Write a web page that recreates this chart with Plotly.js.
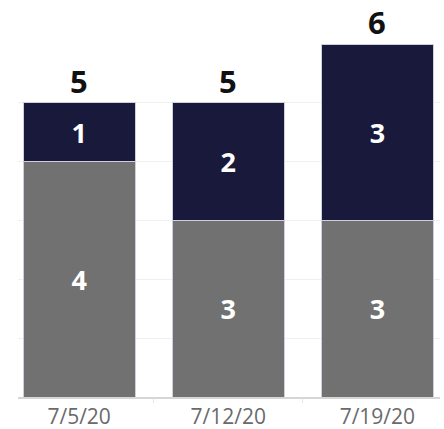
<!DOCTYPE html>
<html>
<head>
<meta charset="utf-8">
<script src="https://cdn.plot.ly/plotly-3.0.1.min.js"></script>
<style>html,body{margin:0;padding:0;background:#fff;}#chart{width:444px;height:429px;}</style>
</head>
<body>
<div id="chart"></div>
<script>
const categories = ['7/5/20', '7/12/20', '7/19/20'];
const bottomValues = [4, 3, 3];
const topValues = [1, 2, 3];
const totals = categories.map((c, i) => bottomValues[i] + topValues[i]);

const barLine = {color: '#cfd0dc', width: 1};
const insideFont = {family: 'Open Sans, sans-serif', size: 27, color: '#ffffff', weight: 'bold'};

const traces = [
  {
    type: 'bar', x: categories, y: bottomValues,
    text: bottomValues.map(String), textposition: 'inside', insidetextanchor: 'middle',
    textfont: insideFont, marker: {color: '#717171', line: barLine},
    hoverinfo: 'skip', showlegend: false
  },
  {
    type: 'bar', x: categories, y: topValues,
    text: topValues.map(String), textposition: 'inside', insidetextanchor: 'middle',
    textfont: insideFont, marker: {color: '#19193c', line: barLine},
    hoverinfo: 'skip', showlegend: false
  }
];

const totalAnnotations = categories.map((c, i) => ({
  x: c, y: totals[i], xref: 'x', yref: 'y',
  text: String(totals[i]), showarrow: false,
  yanchor: 'middle', yshift: 22, borderpad: 0,
  font: {family: 'Open Sans, sans-serif', size: 31, color: '#111111', weight: 'bold'}
}));

const layout = {
  width: 444, height: 429,
  margin: {l: 18, r: 4, t: 44, b: 32},
  barmode: 'stack', bargap: 0.25,
  paper_bgcolor: '#ffffff', plot_bgcolor: '#ffffff',
  showlegend: false,
  annotations: totalAnnotations,
  xaxis: {
    type: 'category', range: [-0.41, 2.42],
    showgrid: false, showline: true, linecolor: '#d6d6d6', linewidth: 1.5,
    tickson: 'boundaries', ticks: 'outside', ticklen: 4, tickcolor: '#e6e6e6',
    tickfont: {family: 'Open Sans, sans-serif', size: 21, color: '#6a6a6a'},
    fixedrange: true
  },
  yaxis: {
    range: [0, 6], dtick: 1, showticklabels: false, showgrid: true,
    gridcolor: '#f0f0f0', gridwidth: 1, zeroline: false, fixedrange: true
  }
};

Plotly.newPlot('chart', traces, layout, {displayModeBar: false, staticPlot: true});
</script>
</body>
</html>
